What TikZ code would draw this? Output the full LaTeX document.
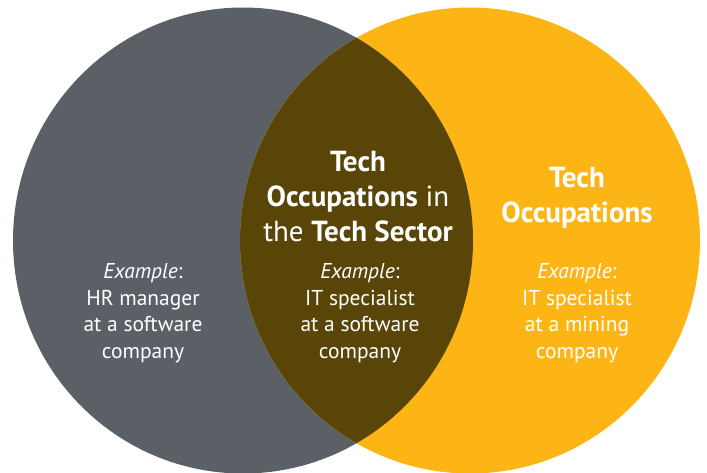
\documentclass[tikz,border=0pt]{standalone}
\usepackage{fontspec}
\setmainfont{PT Sans}
\definecolor{slate}{HTML}{5B6066}
\definecolor{amber}{HTML}{FDB515}
\definecolor{umber}{HTML}{5A4509}

\begin{document}
\begin{tikzpicture}[x=1pt, y=-1pt]
 \tikzstyle{heading}=[text=white, align=center, inner sep=0pt, font=\fontsize{29}{35}\selectfont]
 \tikzstyle{example}=[text=white, align=center, inner sep=0pt, font=\fontsize{21.5}{26.5}\selectfont]
 \tikzstyle{setshape}=[x radius=230pt, y radius=233pt]
 \useasboundingbox (0,0) rectangle (707,472);
 %
 \fill[slate] (243,240.5) ellipse [setshape];
 \fill[amber] (470,240.5) ellipse [setshape];
 \begin{scope}
  \clip (243,240.5) ellipse [setshape];
  \fill[umber] (470,240.5) ellipse [setshape];
 \end{scope}
 %
 \node[heading] (midhead) at (358,197) {\textbf{Tech}\\\textbf{Occupations} in\\the \textbf{Tech Sector}};
 \node[heading] (righthead) at (577,198) {\textbf{Tech}\\\textbf{Occupations}};
 %
 \node[example] (leftex) at (143,313) {\textit{Example}:\\HR manager\\at a software\\company};
 \node[example] (midex) at (360,313) {\textit{Example}:\\IT specialist\\at a software\\company};
 \node[example] (rightex) at (577,313) {\textit{Example}:\\IT specialist\\at a mining\\company};
\end{tikzpicture}
\end{document}
